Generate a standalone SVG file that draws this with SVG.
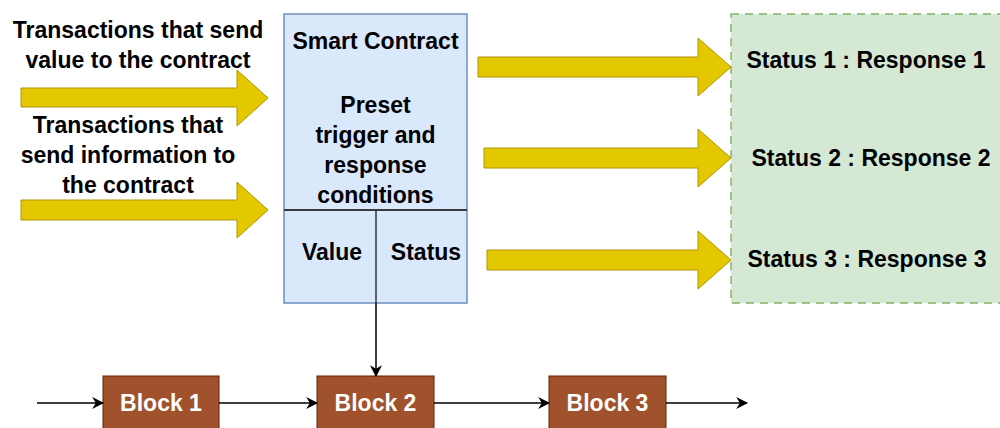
<svg xmlns="http://www.w3.org/2000/svg" width="1000" height="428" viewBox="0 0 1000 428">
<defs>
<style>
text{font-family:"Liberation Sans",Arial,sans-serif;font-weight:bold;font-size:23px;fill:#000;text-anchor:middle}
.w{fill:#fff}
.ya{fill:#e3c800;stroke:#b09500;stroke-width:1}
.blk{fill:#a0522d;stroke:#6d1f00;stroke-width:1}
.ln{stroke:#000;stroke-width:1.5;fill:none}
</style>
<marker id="ah" viewBox="0 0 10 10" refX="9" refY="5" markerWidth="12" markerHeight="12" markerUnits="userSpaceOnUse" orient="auto">
<path d="M0,0 L10,5 L0,10 L3,5 Z" fill="#000"/>
</marker>
</defs>
<rect width="1000" height="428" fill="#fff"/>

<g id="labels-left">
<text x="138" y="38">Transactions that send</text>
<text x="138" y="68">value to the contract</text>
<text x="128" y="133">Transactions that</text>
<text x="128" y="163">send information to</text>
<text x="128" y="193">the contract</text>
</g>

<g id="smart-contract">
<rect x="284" y="14" width="183" height="289" fill="#dae8fc" stroke="#6c8ebf" stroke-width="1.5"/>
<line x1="284" y1="210" x2="467" y2="210" stroke="#36393d" stroke-width="2"/>
<line x1="376" y1="210" x2="376" y2="303" stroke="#36393d" stroke-width="1.5"/>
<text x="375.5" y="49">Smart Contract</text>
<text x="375.5" y="113">Preset</text>
<text x="375.5" y="143">trigger and</text>
<text x="375.5" y="173">response</text>
<text x="375.5" y="203">conditions</text>
<text x="332" y="260">Value</text>
<text x="426" y="260">Status</text>
</g>

<g id="status-responses">
<rect x="731" y="14" width="280" height="289" fill="#d5e8d4" stroke="#82b366" stroke-width="1.5" stroke-dasharray="8,6"/>
<text x="866" y="68">Status 1 : Response 1</text>
<text x="871" y="166">Status 2 : Response 2</text>
<text x="867" y="267">Status 3 : Response 3</text>
</g>

<g id="yellow-arrows">
<polygon class="ya" points="21,88 237,88 237,70 268,98 237,126 237,107 21,107"/>
<polygon class="ya" points="21,200 237,200 237,182 268,210 237,238 237,220 21,220"/>
<polygon class="ya" points="478,57 698,57 698,38 731,67 698,96 698,77 478,77"/>
<polygon class="ya" points="484,148 698,148 698,129 731,158 698,187 698,168 484,168"/>
<polygon class="ya" points="487,250 698,250 698,231 731,260 698,289 698,270 487,270"/>
</g>

<g id="block1">
<rect class="blk" x="103" y="376" width="116" height="60"/>
<text class="w" x="161" y="411">Block 1</text>
</g>
<g id="block2">
<rect class="blk" x="317" y="376" width="117" height="60"/>
<text class="w" x="375.5" y="411">Block 2</text>
</g>
<g id="block3">
<rect class="blk" x="549" y="376" width="117" height="60"/>
<text class="w" x="607.5" y="411">Block 3</text>
</g>

<g id="connectors">
<line class="ln" x1="37" y1="403" x2="103" y2="403" marker-end="url(#ah)"/>
<line class="ln" x1="219" y1="403" x2="317" y2="403" marker-end="url(#ah)"/>
<line class="ln" x1="434" y1="403" x2="549" y2="403" marker-end="url(#ah)"/>
<line class="ln" x1="666" y1="403" x2="747" y2="403" marker-end="url(#ah)"/>
<line class="ln" x1="376" y1="303" x2="376" y2="376" marker-end="url(#ah)"/>
</g>
</svg>
